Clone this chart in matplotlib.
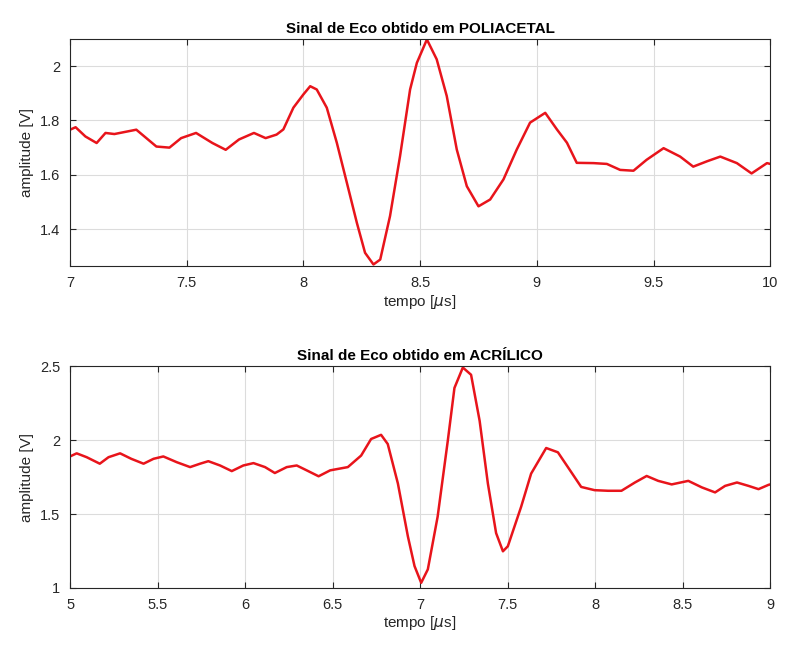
import matplotlib
matplotlib.use("Agg")
import matplotlib.pyplot as plt
from matplotlib.ticker import FormatStrFormatter

# sinal de eco - poliacetal
t_poli = [7.0, 7.024, 7.066, 7.114, 7.152, 7.19, 7.284, 7.37, 7.426, 7.476,
          7.54, 7.61, 7.667, 7.724, 7.788, 7.838, 7.885, 7.914, 7.957, 8.0,
          8.029, 8.057, 8.10, 8.143, 8.186, 8.229, 8.264, 8.30, 8.329, 8.371,
          8.414, 8.457, 8.486, 8.529, 8.571, 8.614, 8.657, 8.70, 8.75, 8.80,
          8.857, 8.914, 8.971, 9.036, 9.086, 9.129, 9.171, 9.243, 9.30, 9.357,
          9.414, 9.47, 9.543, 9.614, 9.67, 9.73, 9.786, 9.857, 9.92, 9.986,
          10.0]
v_poli = [1.766, 1.775, 1.741, 1.717, 1.754, 1.750, 1.766, 1.704, 1.700, 1.735,
          1.754, 1.717, 1.692, 1.730, 1.754, 1.735, 1.748, 1.767, 1.847, 1.896,
          1.926, 1.914, 1.847, 1.718, 1.571, 1.423, 1.313, 1.270, 1.288, 1.448,
          1.669, 1.914, 2.012, 2.098, 2.025, 1.890, 1.693, 1.558, 1.484, 1.509,
          1.583, 1.693, 1.792, 1.828, 1.767, 1.718, 1.644, 1.643, 1.640, 1.618,
          1.615, 1.655, 1.698, 1.667, 1.630, 1.650, 1.667, 1.643, 1.605, 1.643,
          1.640]

# sinal de eco - acrilico
t_acri = [5.0, 5.038, 5.095, 5.17, 5.22, 5.286, 5.35, 5.42, 5.477, 5.533,
          5.61, 5.686, 5.743, 5.79, 5.857, 5.924, 5.99, 6.048, 6.114, 6.17,
          6.238, 6.295, 6.352, 6.42, 6.486, 6.587, 6.663, 6.72, 6.777, 6.815,
          6.873, 6.93, 6.968, 7.006, 7.044, 7.10, 7.158, 7.196, 7.244, 7.291,
          7.34, 7.387, 7.434, 7.473, 7.501, 7.577, 7.634, 7.72, 7.787, 7.844,
          7.92, 7.997, 8.074, 8.15, 8.227, 8.294, 8.36, 8.437, 8.532, 8.609,
          8.685, 8.742, 8.81, 8.876, 8.933, 8.99, 9.0]
v_acri = [1.889, 1.910, 1.884, 1.840, 1.884, 1.910, 1.873, 1.840, 1.873, 1.889,
          1.850, 1.817, 1.840, 1.857, 1.828, 1.790, 1.828, 1.844, 1.817, 1.777,
          1.817, 1.828, 1.795, 1.755, 1.795, 1.817, 1.895, 2.007, 2.035, 1.973,
          1.706, 1.349, 1.148, 1.035, 1.126, 1.482, 1.995, 2.352, 2.490, 2.441,
          2.129, 1.706, 1.371, 1.248, 1.282, 1.549, 1.773, 1.946, 1.917, 1.817,
          1.683, 1.661, 1.657, 1.657, 1.713, 1.757, 1.724, 1.700, 1.724, 1.680,
          1.646, 1.690, 1.713, 1.690, 1.668, 1.697, 1.700]

plt.rcParams['font.family'] = ['Liberation Sans', 'DejaVu Sans']

fig = plt.figure(figsize=(7.85, 6.49), dpi=100)
ax1 = fig.add_axes([0.0892, 0.590, 0.892, 0.350])
ax2 = fig.add_axes([0.0892, 0.094, 0.892, 0.342])

paineis = [
    (ax1, t_poli, v_poli, 'Sinal de Eco obtido em POLIACETAL', (7, 10), (1.264, 2.1),
     [7, 7.5, 8, 8.5, 9, 9.5, 10], [1.4, 1.6, 1.8, 2.0]),
    (ax2, t_acri, v_acri, 'Sinal de Eco obtido em ACRÍLICO', (5, 9), (1, 2.5),
     [5, 5.5, 6, 6.5, 7, 7.5, 8, 8.5, 9], [1, 1.5, 2, 2.5]),
]

for ax, t, v, titulo, xl, yl, xt, yt in paineis:
    ax.plot(t, v, color='#e8141b', linewidth=1.8)
    ax.set_xlim(*xl)
    ax.set_ylim(*yl)
    ax.set_xticks(xt)
    ax.set_yticks(yt)
    ax.xaxis.set_major_formatter(FormatStrFormatter('%g'))
    ax.yaxis.set_major_formatter(FormatStrFormatter('%g'))
    ax.grid(True, color='#dcdcdc', linewidth=0.8)
    ax.tick_params(direction='in', top=True, right=True, length=4,
                   labelsize=10.5, colors='#262626', pad=7)
    for s in ax.spines.values():
        s.set_color('#262626')
        s.set_linewidth(0.8)
    ax.set_title(titulo, fontsize=11, fontweight='bold', pad=4)
    ax.set_xlabel(r'tempo [$\mu$s]', fontsize=11, color='#262626', labelpad=2)
    ax.set_ylabel('amplitude [V]', fontsize=11, color='#262626', labelpad=4)

fig.savefig('out.png', dpi=100)
